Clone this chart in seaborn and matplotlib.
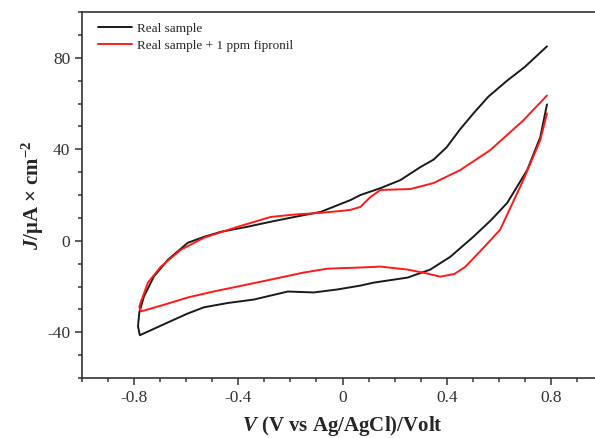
import numpy as np
import pandas as pd
import matplotlib
matplotlib.use("Agg")
import matplotlib.pyplot as plt
from matplotlib.ticker import MultipleLocator, FuncFormatter
import seaborn as sns

# Real sample: upper branch (right -> left), then lower branch (left -> right)
black_v = [0.785, 0.70, 0.632, 0.56, 0.502, 0.45, 0.40, 0.35, 0.299, 0.222, 0.146, 0.069, 0.031,
           -0.084, -0.18, -0.276, -0.37, -0.467, -0.532, -0.594, -0.67, -0.724, -0.762, -0.78, -0.785,
           -0.778, -0.67, -0.594, -0.532, -0.44, -0.34, -0.21, -0.11, -0.02, 0.069, 0.12, 0.25, 0.337,
           0.414, 0.502, 0.57, 0.632, 0.709, 0.759, 0.785]
black_j = [85, 76, 70, 63, 55.6, 48.5, 40.9, 35.5, 32.2, 26.5, 23, 20, 17.8,
           12.6, 10.5, 8.3, 6, 3.9, 1.7, -0.9, -8.3, -15.6, -24.3, -31.3, -37.4,
           -41.3, -35.7, -31.8, -29.1, -27.2, -25.7, -22.2, -22.6, -21.3, -19.6, -18.3, -16.1, -12.6,
           -7, 1.7, 9, 16.5, 30.9, 45.2, 59.6]

# Real sample + 1 ppm fipronil
red_v = [0.785, 0.694, 0.567, 0.452, 0.349, 0.26, 0.146, 0.107, 0.069, 0.031, -0.008,
         -0.084, -0.18, -0.276, -0.402, -0.532, -0.62, -0.697, -0.747, -0.78, -0.774,
         -0.68, -0.594, -0.5, -0.402, -0.276, -0.149, -0.057, 0.069, 0.146, 0.25, 0.32, 0.375,
         0.43, 0.47, 0.50, 0.55, 0.605, 0.694, 0.759, 0.785]
red_j = [63.5, 52.6, 39.6, 30.9, 25.2, 22.6, 22.2, 19.1, 14.8, 13.5, 13,
         12.2, 11.5, 10.4, 6.1, 1.3, -3.9, -11.3, -18.3, -28.7, -30.9,
         -27.8, -24.8, -22.3, -20, -17, -13.9, -12.2, -11.7, -11.3, -12.6, -14.2, -15.7,
         -14.5, -11.5, -8, -2, 4.8, 26.5, 43.9, 55.7]

sns.set_style("ticks")
plt.rcParams["font.family"] = ["Liberation Serif", "DejaVu Serif"]
plt.rcParams["mathtext.fontset"] = "custom"
plt.rcParams["mathtext.rm"] = "Liberation Serif:bold"
plt.rcParams["mathtext.bf"] = "Liberation Serif:bold"
plt.rcParams["mathtext.it"] = "Liberation Serif:bold:italic"
plt.rcParams["axes.unicode_minus"] = False

df = pd.concat([
    pd.DataFrame({"V": black_v, "J": black_j, "sample": "Real sample"}),
    pd.DataFrame({"V": red_v, "J": red_j, "sample": "Real sample + 1 ppm fipronil"}),
])

fig = plt.figure(figsize=(5.95, 4.38), dpi=100)
ax = fig.add_axes([82 / 595, 1 - 378 / 438, 521 / 595, 366 / 438])

sns.lineplot(data=df, x="V", y="J", hue="sample", units="sample", estimator=None, sort=False,
             palette=["#1a1a1a", "#ff1a1a"], linewidth=1.4, ax=ax)

ax.set_xlim(-1.0, 1.0)
ax.set_ylim(-60, 100)
ax.xaxis.set_major_locator(MultipleLocator(0.4))
ax.xaxis.set_minor_locator(MultipleLocator(0.1))
ax.yaxis.set_major_locator(MultipleLocator(40))
ax.yaxis.set_minor_locator(MultipleLocator(10))
ax.xaxis.set_major_formatter(FuncFormatter(lambda v, p: "0" if abs(v) < 1e-9 else f"{v:.1f}"))
ax.yaxis.set_major_formatter(FuncFormatter(lambda v, p: f"{v:.0f}"))
ax.tick_params(which="major", direction="out", length=5, width=1.1, labelsize=12.5, colors="#333333")
ax.tick_params(which="minor", direction="out", length=3, width=1.1, colors="#333333")
for s in ["left", "bottom", "top", "right"]:
    ax.spines[s].set_color("#333333")
    ax.spines[s].set_linewidth(1.2)

ax.set_xlabel(r"$V$ (V vs Ag/AgCl)/Volt", fontsize=15, fontweight="bold", labelpad=6)
ax.set_ylabel(r"$J$/μA × cm$^{-2}$", fontsize=15, fontweight="bold", labelpad=1)

ax.legend(loc="upper left", frameon=False, fontsize=9.5, handlelength=2.6, handletextpad=0.4,
          labelspacing=0.35, borderaxespad=0.4, bbox_to_anchor=(0.01, 1.0))

fig.savefig("out.png", dpi=100)
